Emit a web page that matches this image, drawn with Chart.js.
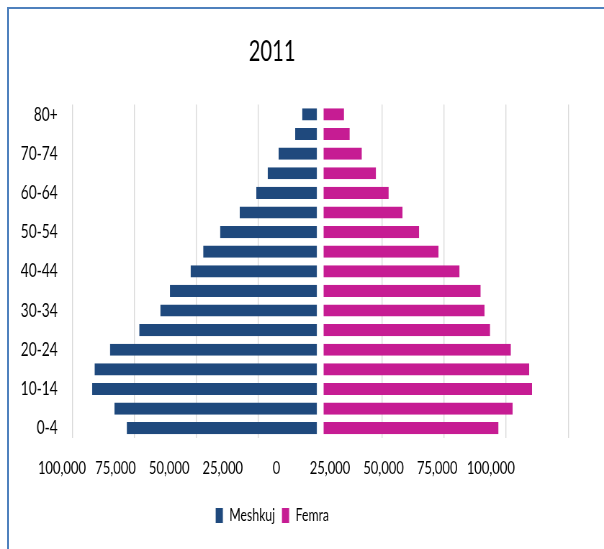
<!DOCTYPE html>
<html>
<head>
<meta charset="utf-8">
<script src="https://cdn.jsdelivr.net/npm/chart.js@4"></script>
<style>
  html, body { margin: 0; padding: 0; background: #fff; width: 604px; height: 549px; overflow: hidden; }
  #frame { position: absolute; left: 7px; top: 7px; width: 700px; height: 700px; border: 2px solid #4F81BD; box-sizing: border-box; }
  #wrap { position: absolute; left: 0; top: 0; width: 839px; height: 549px; transform: scaleX(0.7199); transform-origin: 0 0; }
</style>
</head>
<body>
<div id="frame"></div>
<div id="wrap"><canvas id="c" width="839" height="549"></canvas></div>
<script>
// ---- data ----
const categories = ['0-4','5-9','10-14','15-19','20-24','25-29','30-34','35-39','40-44','45-49','50-54','55-59','60-64','65-69','70-74','75-79','80+'];
const meshkuj = [78000, 83000, 92000, 91000, 84800, 73000, 64500, 60600, 52300, 47200, 40400, 32500, 25800, 21200, 16800, 10100, 7300];
const femra   = [71900, 77600, 85400, 84300, 76900, 68500, 66300, 64700, 56200, 47700, 39900, 33200, 27600, 22500, 16800, 11900, 9600];
const xTickValues = [-100000, -75000, -50000, -25000, 0, 25000, 50000, 75000, 100000];
const seriesNames = ['Meshkuj', 'Femra'];
const chartTitle = '2011';

const FONT = "Lato, 'Liberation Sans', Arial, sans-serif";
const TEXT = '#000000';

const shiftBoxes = {
  id: 'shiftBoxes',
  afterLayout(chart) {
    const cx = 378;
    [chart.titleBlock, chart.legend].forEach(b => {
      if (!b) return;
      b.left = 0;
      b.right = cx * 2;
    });
  }
};

new Chart(document.getElementById('c'), {
  type: 'bar',
  data: {
    labels: categories,
    datasets: [
      {
        label: seriesNames[0],
        data: meshkuj.map(v => -v),
        backgroundColor: '#1F497D',
        borderColor: '#ffffff',
        borderWidth: { top: 0, bottom: 0, left: 0, right: 4 },
        borderSkipped: false,
        xAxisID: 'x'
      },
      {
        label: seriesNames[1],
        data: femra,
        backgroundColor: '#C61C93',
        borderColor: '#ffffff',
        borderWidth: { top: 0, bottom: 0, left: 4, right: 0 },
        borderSkipped: false,
        xAxisID: 'x'
      }
    ]
  },
  plugins: [shiftBoxes],
  options: {
    indexAxis: 'y',
    responsive: false,
    devicePixelRatio: 1,
    animation: false,
    layout: { padding: { left: 0, right: 39, top: 0, bottom: 15 } },
    datasets: { bar: { barPercentage: 0.62, categoryPercentage: 1.0 } },
    scales: {
      y: {
        type: 'category',
        stacked: true,
        reverse: true,
        grid: { display: false, drawTicks: false },
        border: { display: false },
        afterFit: s => { s.width = 86; },
        ticks: {
          autoSkip: false,
          padding: 6,
          color: TEXT,
          font: { family: FONT, size: 19 },
          callback: function (value, index) {
            return index % 2 === 0 ? this.getLabelForValue(value) : '';
          }
        }
      },
      x: {
        type: 'linear',
        position: 'bottom',
        stacked: true,
        min: -104150,
        max: 103100,
        afterBuildTicks: s => { s.ticks = xTickValues.map(v => ({ value: v })); },
        grid: {
          drawTicks: false,
          lineWidth: 1.4,
          color: ctx => (ctx.tick && ctx.tick.value === 0) ? 'rgba(0,0,0,0)' : '#D9D9D9'
        },
        border: { display: false },
        ticks: { display: false }
      },
      x2: {
        type: 'linear',
        position: 'bottom',
        min: -100000,
        max: 139700,
        afterBuildTicks: s => { s.ticks = xTickValues.map(v => ({ value: v })); },
        afterFit: s => { s.height = 60; },
        grid: { display: false, drawTicks: false },
        border: { display: false },
        ticks: {
          padding: 19,
          maxRotation: 0,
          autoSkip: false,
          color: TEXT,
          font: { family: FONT, size: 18 },
          callback: v => Math.abs(v).toLocaleString('en-US')
        }
      }
    },
    plugins: {
      title: {
        display: true,
        text: chartTitle,
        color: TEXT,
        font: { family: FONT, size: 28, weight: 'normal' },
        padding: { top: 35, bottom: 36 }
      },
      legend: {
        display: true,
        position: 'bottom',
        labels: {
          color: TEXT,
          boxWidth: 11,
          boxHeight: 16,
          padding: 9,
          font: { family: FONT, size: 17 }
        }
      },
      tooltip: { enabled: false }
    }
  }
});
</script>
</body>
</html>
